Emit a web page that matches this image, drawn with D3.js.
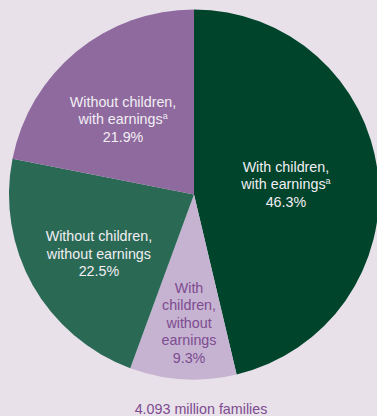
<!DOCTYPE html>
<html>
<head>
<meta charset="utf-8">
<script src="https://cdn.jsdelivr.net/npm/d3@7"></script>
<style>
  body { margin: 0; background: #e8e1ea; }
  svg { display: block; }
  text { font-family: "Liberation Sans", Arial, sans-serif; }
</style>
</head>
<body>
<svg id="body" width="377" height="416"></svg>
<script>

// slices, clockwise from 12 o'clock
let categories = [
  "With children, with earnings",
  "With children, without earnings",
  "Without children, without earnings",
  "Without children, with earnings"
]
let shares = [46.3, 9.3, 22.5, 21.9]
let labelLines = [
  ["With children,", "with earnings^a", "46.3%"],
  ["With", "children,", "without", "earnings", "9.3%"],
  ["Without children,", "without earnings", "22.5%"],
  ["Without children,", "with earnings^a", "21.9%"]
]
let total = "4.093 million families"

let colors = ["#00452b", "#c6b3d1", "#2a6a55", "#8f6a9e"]
let textColors = ["#f2eef4", "#7d4b90", "#f2eef4", "#f2eef4"]
// label placement: radius as share of pie radius, nudge in degrees
let labelRad = [0.5, 0.695, 0.605, 0.56]
let labelNudge = [0.3, -1.2, -2.5, -3.8]

let svg = d3.select("#body")

let cx = 194, cy = 194.5, radius = 185

let pie = d3.pie().sort(null).value(d => d)
let arcs = pie(shares)

let arc = d3.arc().innerRadius(0).outerRadius(radius)

let g = svg.append("g").attr("transform", "translate(" + cx + "," + cy + ")")

g.selectAll("path")
    .data(arcs)
    .enter().append("path")
    .attr("d", arc)
    .attr("fill", (d, i) => colors[i])

let lineH = 17.5

arcs.forEach((a, i) => {
  let mid = (a.startAngle + a.endAngle) / 2 + labelNudge[i] * Math.PI / 180
  let r = radius * labelRad[i]
  let x = Math.sin(mid) * r
  let y = -Math.cos(mid) * r
  let lines = labelLines[i]
  let y0 = y - (lines.length - 1) / 2 * lineH

  let t = g.append("text")
      .attr("text-anchor", "middle")
      .attr("font-size", "14.3px")
      .attr("fill", textColors[i])

  lines.forEach((ln, j) => {
    let sup = ln.endsWith("^a")
    let main = sup ? ln.slice(0, -2) : ln
    t.append("tspan")
        .attr("x", x)
        .attr("y", y0 + j * lineH + 5)
        .text(main)
    if (sup) {
      t.append("tspan")
          .attr("dy", -5)
          .attr("font-size", "9px")
          .text("a")
    }
  })
})

svg.append("text")
    .attr("x", 201)
    .attr("y", 413.5)
    .attr("text-anchor", "middle")
    .attr("font-size", "14.3px")
    .attr("fill", "#7d4b90")
    .text(total)

</script>
</body>
</html>
